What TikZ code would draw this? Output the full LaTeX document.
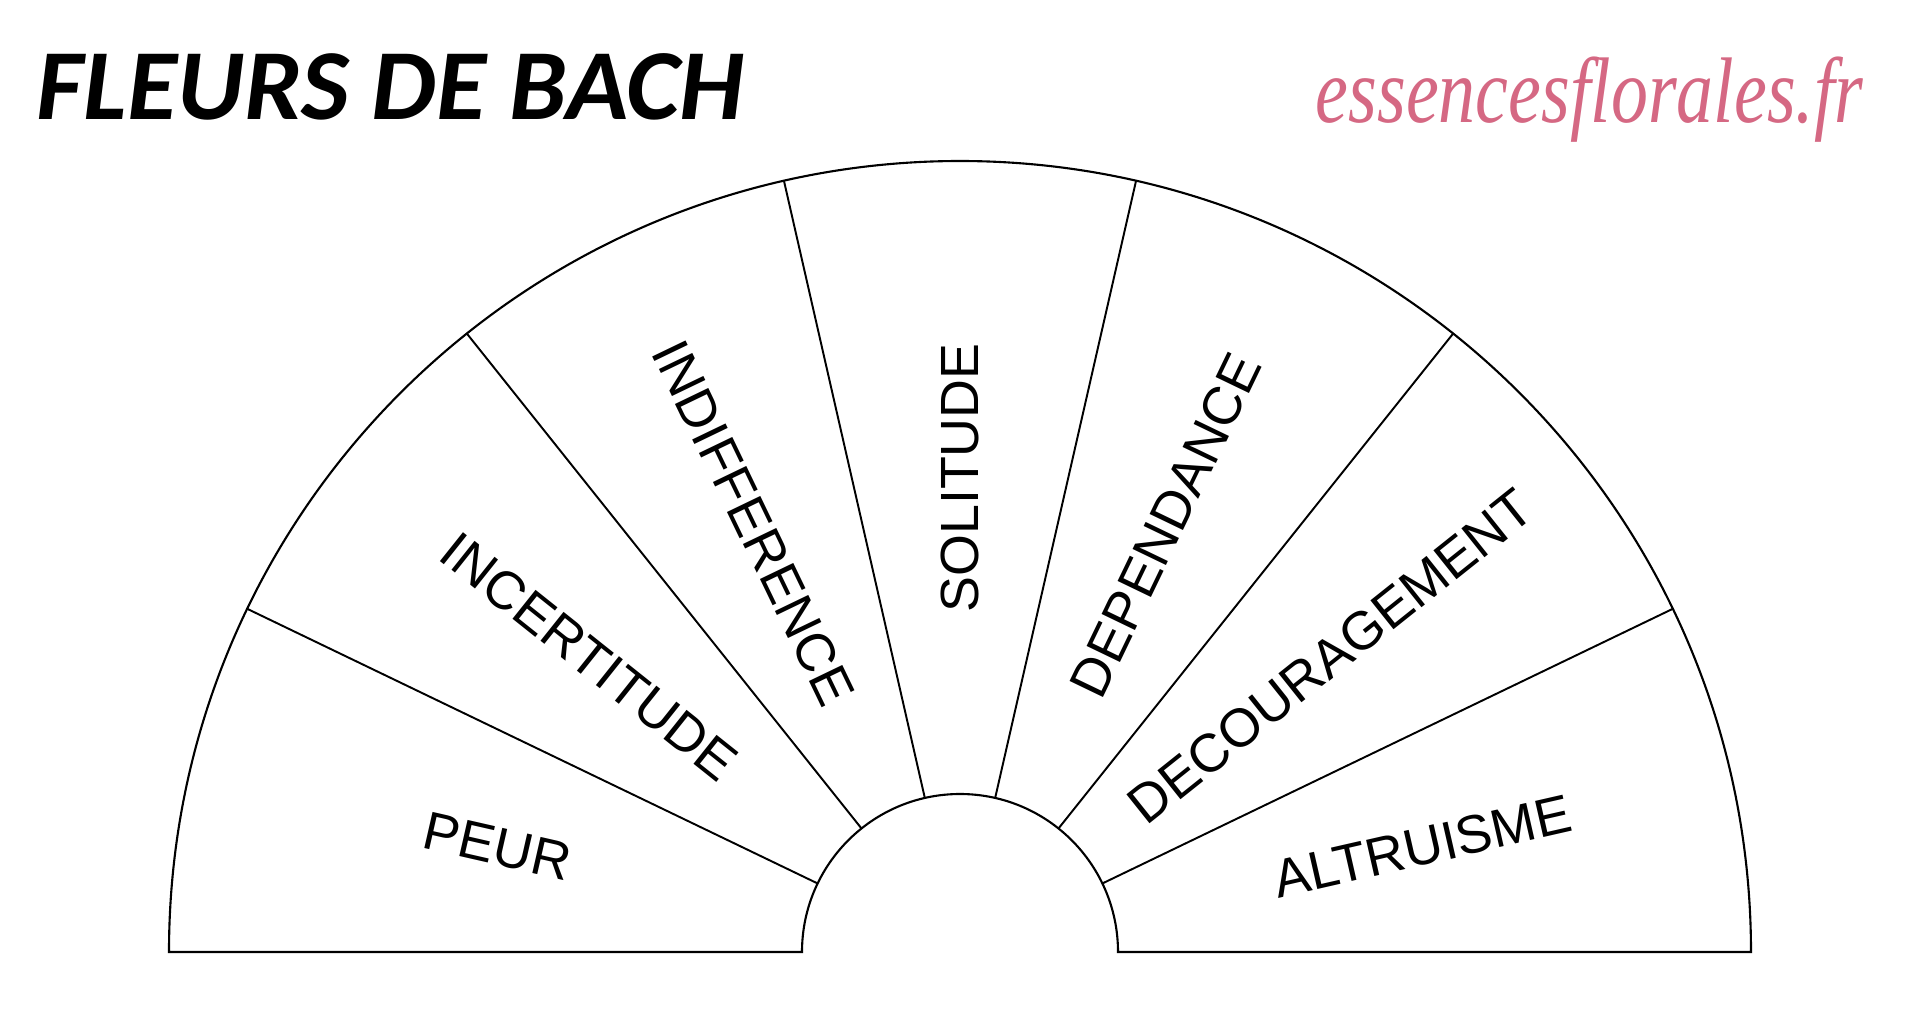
\documentclass[tikz,border=0pt]{standalone}
\usepackage{fontspec}
\newfontfamily\labelfont{Liberation Sans}
\newfontfamily\titlefont{Carlito}
\newfontfamily\sitefont{Liberation Serif}
\definecolor{sitepink}{RGB}{213,104,131}
\tikzset{fan/.style={line width=0.6pt, color=black}}
\tikzset{spoke/.style={line width=0.55pt, color=black}}
\tikzset{mood/.style={inner sep=0pt, font=\labelfont\fontsize{15.3pt}{18pt}\selectfont}}

\begin{document}
\begin{tikzpicture}[x=0.01cm, y=0.01cm]
    \useasboundingbox (0,0) rectangle (1920,1032);

    \node[anchor=base west, inner sep=0pt, xscale=1.02, font=\titlefont\bfseries\itshape\fontsize{28.6pt}{32pt}\selectfont] (title) at (36, 913) {FLEURS DE BACH};
    \node[anchor=base east, inner sep=0pt, xscale=0.84, yscale=1.06, text=sitepink, font=\sitefont\itshape\fontsize{25pt}{30pt}\selectfont] (site) at (1864, 910) {essencesflorales.fr};

    \begin{scope}[shift={(960,80)}]
        \draw [fan] (-791,0) arc (180:0:791) -- (158,0) arc (0:180:158) -- cycle;

        \draw [spoke] (154.29:158) -- (154.29:791);
        \draw [spoke] (128.57:158) -- (128.57:791);
        \draw [spoke] (102.86:158) -- (102.86:791);
        \draw [spoke] (77.14:158) -- (77.14:791);
        \draw [spoke] (51.43:158) -- (51.43:791);
        \draw [spoke] (25.71:158) -- (25.71:791);

        \node[mood, rotate=-12.86] (peur) at (167.14:474) {PEUR};
        \node[mood, rotate=-38.57] (incertitude) at (141.43:474) {INCERTITUDE};
        \node[mood, rotate=-64.29] (indifference) at (115.71:476) {INDIFFERENCE};
        \node[mood, rotate=90] (solitude) at (90:474) {SOLITUDE};
        \node[mood, rotate=64.29] (dependance) at (64.29:474) {DEPENDANCE};
        \node[mood, rotate=38.57] (decouragement) at (38.57:474) {DECOURAGEMENT};
        \node[mood, rotate=12.86] (altruisme) at (12.86:474) {ALTRUISME};
    \end{scope}
\end{tikzpicture}
\end{document}
